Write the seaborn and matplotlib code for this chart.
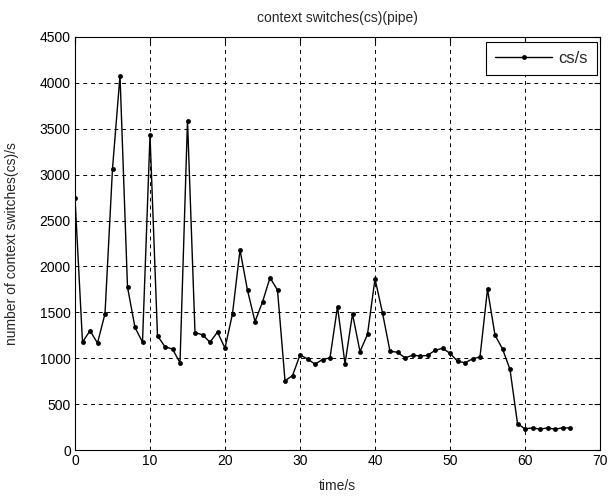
import pandas as pd
import seaborn as sns
import matplotlib.pyplot as plt

# 時刻 (秒) とコンテキストスイッチ数
time_s = list(range(0, 67))
cs_per_s = [
    2745, 1175, 1300, 1165, 1485, 3065, 4080, 1775, 1335, 1175,
    3430, 1245, 1125, 1100, 950, 3590, 1280, 1255, 1175, 1285,
    1110, 1485, 2180, 1740, 1400, 1612, 1878, 1742, 755, 810,
    1035, 993, 935, 986, 1004, 1562, 940, 1483, 1072, 1260,
    1865, 1494, 1076, 1065, 1004, 1032, 1025, 1030, 1086, 1108,
    1054, 968, 950, 993, 1014, 1752, 1252, 1101, 878, 288,
    230, 241, 227, 241, 227, 241, 241,
]

df = pd.DataFrame({"time": time_s, "cs": cs_per_s})

sns.set_style("white")
plt.rcParams["font.family"] = ["Liberation Sans", "DejaVu Sans"]

fig = plt.figure(figsize=(6.11, 4.98), dpi=100)
ax = fig.add_axes([75 / 611, 48 / 498, 525 / 611, 413 / 498])

sns.lineplot(
    data=df, x="time", y="cs", ax=ax,
    color="black", linewidth=1.0,
    marker="o", markersize=3.5, markeredgewidth=0,
    label="cs/s",
)

ax.set_xlim(0, 70)
ax.set_ylim(0, 4500)
ax.set_xticks(range(0, 71, 10))
ax.set_yticks(range(0, 4501, 500))
ax.grid(True, color="black", linestyle=(0, (4, 4)), linewidth=0.7)
ax.tick_params(direction="in", top=True, right=True, length=4,
               labelsize=10, colors="black", pad=3)
for s in ax.spines.values():
    s.set_color("black")
    s.set_linewidth(0.8)

ax.set_title("context switches(cs)(pipe)", fontsize=10, pad=11)
ax.set_xlabel("time/s", fontsize=10, labelpad=8)
ax.set_ylabel("number of context switches(cs)/s", fontsize=10, labelpad=15)

leg = ax.legend(loc="upper right", fontsize=12, fancybox=False,
                framealpha=1, edgecolor="black", handlelength=3.4,
                handletextpad=0.4, borderpad=0.55, borderaxespad=0,
                bbox_to_anchor=(0.995, 0.988))
leg.get_frame().set_linewidth(0.8)

plt.savefig("out.png", dpi=100)
